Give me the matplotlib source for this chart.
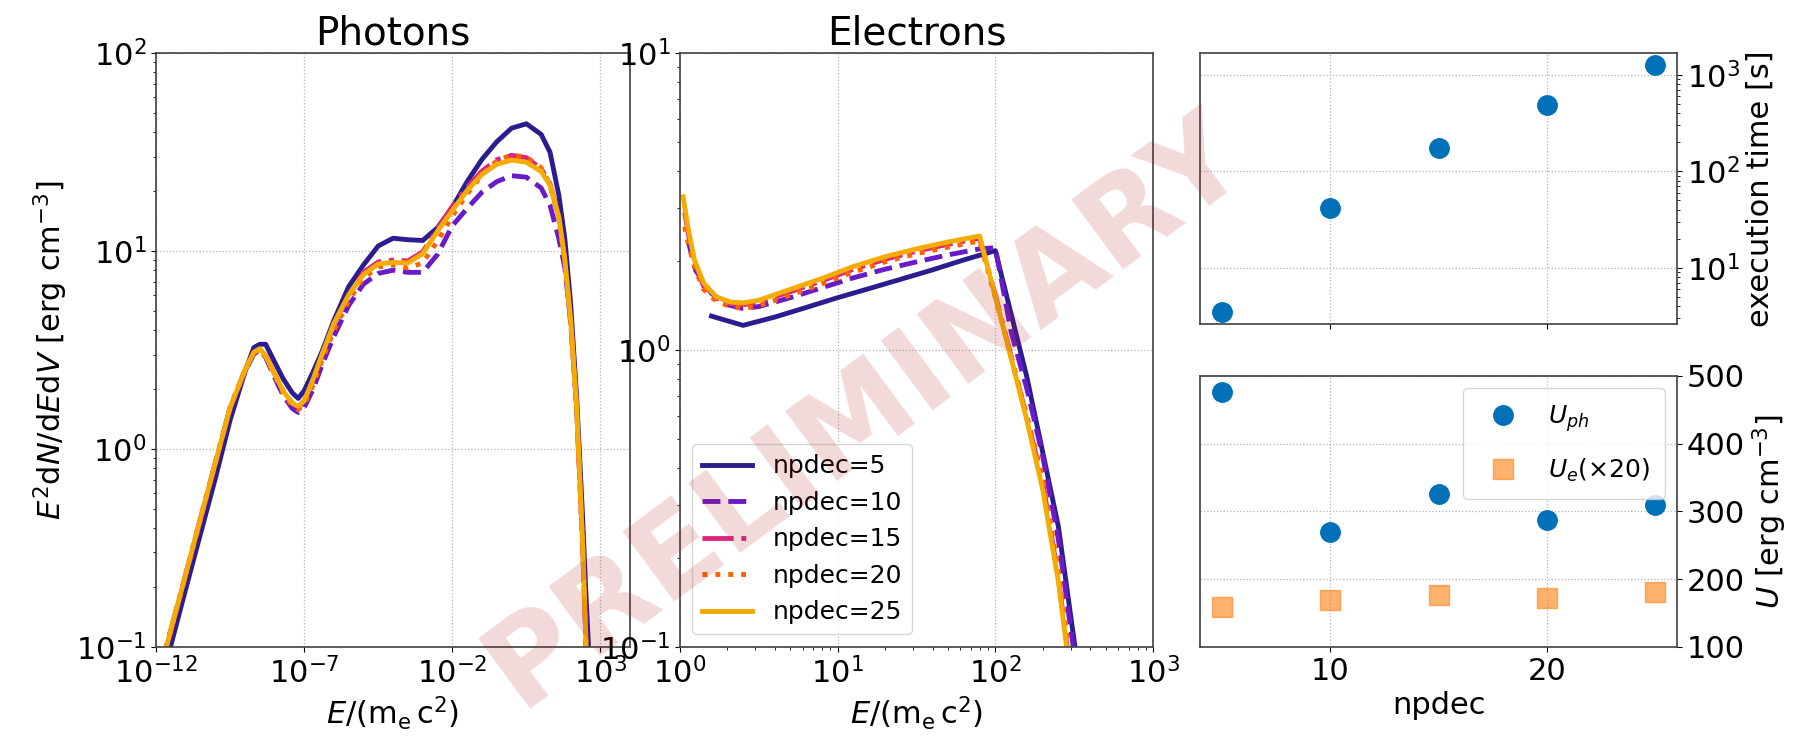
import numpy as np
import matplotlib.pyplot as plt
from matplotlib.ticker import NullLocator

# photon spectra: log10(E / m_e c^2) grid shared by all runs
ph_logE = [-12.0, -11.5, -11.0, -10.5, -10.0, -9.5, -9.0, -8.7, -8.5, -8.3,
           -8.0, -7.7, -7.4, -7.2, -7.0, -6.7, -6.4, -6.0, -5.5, -5.0,
           -4.5, -4.0, -3.5, -3.0, -2.5, -2.0, -1.5, -1.0, -0.5, 0.0,
           0.5, 1.0, 1.3, 1.6, 1.8, 2.0, 2.2, 2.4, 2.5, 2.6]
ph_np5 = [0.054, 0.102, 0.196, 0.373, 0.71, 1.40, 2.45, 3.25, 3.38, 3.38,
          2.75, 2.25, 1.92, 1.80, 1.97, 2.45, 3.1, 4.45, 6.6, 8.5,
          10.6, 11.6, 11.4, 11.3, 13.1, 16.6, 22.4, 29.0, 35.6, 41.7,
          43.9, 38.8, 31.5, 19.0, 11.5, 5.3, 1.8, 0.45, 0.2, 0.1]
ph_np10 = [0.062, 0.118, 0.226, 0.43, 0.83, 1.58, 2.45, 3.02, 3.15, 2.9,
           2.3, 1.85, 1.6, 1.53, 1.62, 2.0, 2.65, 3.7, 5.3, 6.8,
           7.7, 8.0, 7.8, 7.8, 9.6, 13.4, 16.4, 19.8, 22.4, 24.0,
           23.6, 20.8, 17.0, 11.5, 8.2, 4.3, 1.6, 0.33, 0.12, 0.04]
ph_np15 = [0.064, 0.122, 0.233, 0.446, 0.85, 1.62, 2.5, 3.08, 3.21, 2.95,
           2.4, 1.95, 1.70, 1.62, 1.74, 2.22, 2.95, 4.25, 6.0, 7.8,
           8.8, 9.0, 8.9, 9.9, 12.9, 16.8, 21.0, 25.3, 28.9, 30.4,
           29.6, 26.0, 21.8, 14.8, 9.0, 4.4, 1.6, 0.33, 0.12, 0.04]
ph_np20 = [0.064, 0.122, 0.233, 0.446, 0.85, 1.62, 2.5, 3.06, 3.18, 2.92,
           2.35, 1.9, 1.65, 1.58, 1.68, 2.1, 2.8, 3.95, 5.6, 7.3,
           8.3, 8.5, 8.2, 8.7, 11.2, 15.0, 19.4, 24.2, 28.5, 30.5,
           29.8, 26.3, 21.5, 14.5, 8.8, 4.3, 1.6, 0.33, 0.12, 0.04]
ph_np25 = [0.064, 0.122, 0.233, 0.446, 0.85, 1.62, 2.5, 3.08, 3.21, 2.95,
           2.4, 1.95, 1.70, 1.64, 1.75, 2.25, 3.0, 4.3, 6.0, 7.6,
           8.6, 8.75, 8.7, 9.7, 12.6, 16.0, 20.2, 24.4, 27.4, 28.8,
           28.1, 25.2, 21.5, 14.8, 9.0, 4.4, 1.6, 0.33, 0.12, 0.04]

# electron spectra, each run on its own energy grid
el_logE_np5 = [0.2, 0.4, 0.6, 0.8, 1.0, 1.2, 1.4, 1.6, 1.8, 2.0, 2.2, 2.4, 2.6]
el_np5 = [1.30, 1.21, 1.29, 1.39, 1.50, 1.61, 1.73, 1.86, 2.01, 2.16, 0.81, 0.254, 0.043]
el_logE_np10 = [0.05, 0.1, 0.2, 0.3, 0.4, 0.5, 0.7, 0.9, 1.1, 1.3, 1.5, 1.7, 1.9, 2.0,
                2.1, 2.2, 2.3, 2.4, 2.5]
el_np10 = [2.35, 1.85, 1.55, 1.42, 1.38, 1.40, 1.50, 1.62, 1.75, 1.87, 1.98, 2.09, 2.19, 2.21,
           1.15, 0.74, 0.44, 0.23, 0.095]
el_logE_np15 = [0.03, 0.06, 0.1, 0.15, 0.23, 0.32, 0.4, 0.5, 0.7, 0.9, 1.1, 1.3, 1.5, 1.7,
                1.9, 2.0, 2.1, 2.2, 2.3, 2.4, 2.5]
el_np15 = [2.9, 2.35, 1.92, 1.64, 1.49, 1.43, 1.42, 1.45, 1.57, 1.71, 1.87, 2.02, 2.15, 2.27,
           2.38, 1.53, 0.95, 0.59, 0.36, 0.17, 0.065]
el_logE_np20 = [0.03, 0.06, 0.1, 0.15, 0.23, 0.32, 0.4, 0.5, 0.7, 0.9, 1.1, 1.3, 1.5, 1.7,
                1.9, 2.0, 2.1, 2.2, 2.3, 2.4, 2.5]
el_np20 = [2.6, 2.2, 1.85, 1.6, 1.46, 1.40, 1.38, 1.41, 1.53, 1.67, 1.83, 1.98, 2.11, 2.22,
           2.33, 1.5, 0.95, 0.6, 0.37, 0.18, 0.07]
el_logE_np25 = [0.02, 0.05, 0.09, 0.15, 0.23, 0.32, 0.4, 0.5, 0.7, 0.9, 1.1, 1.3, 1.5, 1.7,
                1.9, 2.0, 2.1, 2.2, 2.3, 2.4, 2.5]
el_np25 = [3.28, 2.60, 2.02, 1.68, 1.51, 1.45, 1.44, 1.47, 1.60, 1.74, 1.91, 2.06, 2.19, 2.31,
           2.42, 1.51, 0.94, 0.58, 0.34, 0.166, 0.063]

# convergence scan
npdec = [5, 10, 15, 20, 25]
exec_time = [3.5, 42, 175, 480, 1250]
U_ph = [476, 269, 326, 287, 310]
U_e20 = [159, 169, 177, 172, 181]

labels = ['npdec=5', 'npdec=10', 'npdec=15', 'npdec=20', 'npdec=25']
colors = ['#2b1d8f', '#6a1bc9', '#dc267f', '#fe6100', '#f5ab00']
styles = ['-', '--', '-.', ':', '-']

plt.rcParams['font.size'] = 22
plt.rcParams['axes.linewidth'] = 1.2
plt.rcParams['axes.edgecolor'] = '0.25'

fig = plt.figure(figsize=(17.96, 7.41), dpi=100)
ax_ph = fig.add_axes([0.0869, 0.1269, 0.2639, 0.8016])
ax_el = fig.add_axes([0.3786, 0.1269, 0.2634, 0.8016])
ax_t = fig.add_axes([0.6682, 0.5628, 0.2656, 0.3657])
ax_u = fig.add_axes([0.6682, 0.1269, 0.2656, 0.3657], sharex=ax_t)

ph_E = 10.0 ** np.array(ph_logE)
for y, lab, c, ls in zip([ph_np5, ph_np10, ph_np15, ph_np20, ph_np25], labels, colors, styles):
    ax_ph.plot(ph_E, y, ls=ls, color=c, lw=3.5, label=lab)

el_runs = [(el_logE_np5, el_np5), (el_logE_np10, el_np10), (el_logE_np15, el_np15),
           (el_logE_np20, el_np20), (el_logE_np25, el_np25)]
for (le, y), lab, c, ls in zip(el_runs, labels, colors, styles):
    ax_el.plot(10.0 ** np.array(le), y, ls=ls, color=c, lw=3.5, label=lab)

ax_ph.set_xscale('log')
ax_ph.set_yscale('log')
ax_ph.set_xlim(1e-12, 1e4)
ax_ph.set_ylim(0.1, 100)
ax_ph.set_xticks([1e-12, 1e-7, 1e-2, 1e3])
ax_ph.xaxis.set_minor_locator(NullLocator())
ax_ph.set_title('Photons', fontsize=28)
ax_ph.set_xlabel(r'$E/(\mathrm{m_e\,c^2})$')
ax_ph.set_ylabel(r'$E^2\mathrm{d}N/\mathrm{d}E\mathrm{d}V$ [erg cm$^{-3}$]')

ax_el.set_xscale('log')
ax_el.set_yscale('log')
ax_el.set_xlim(1, 1e3)
ax_el.set_ylim(0.1, 10)
ax_el.set_title('Electrons', fontsize=28)
ax_el.set_xlabel(r'$E/(\mathrm{m_e\,c^2})$')
ax_el.legend(loc='lower left', fontsize=18)

ax_t.plot(npdec, exec_time, 'o', color='#0071b8', ms=14)
ax_t.set_yscale('log')
ax_t.yaxis.tick_right()
ax_t.yaxis.set_label_position('right')
ax_t.tick_params(labelbottom=False)
ax_t.set_ylabel('execution time [s]')

ax_u.plot(npdec, U_ph, 'o', color='#0071b8', ms=14, label=r'$U_{ph}$')
ax_u.plot(npdec, U_e20, 's', color='tab:orange', alpha=0.6, ms=14, label=r'$U_e(\times 20)$')
ax_u.set_ylim(100, 500)
ax_u.set_yticks([100, 200, 300, 400, 500])
ax_u.set_xticks([10, 20])
ax_u.yaxis.tick_right()
ax_u.yaxis.set_label_position('right')
ax_u.set_xlabel('npdec')
ax_u.set_ylabel(r'$U$ [erg cm$^{-3}$]')
ax_u.legend(loc='upper right', fontsize=18, labelspacing=0.9, borderpad=0.6)

for ax in (ax_ph, ax_el, ax_t, ax_u):
    ax.grid(True, which='major', ls=':', color='0.7', lw=0.9)

fig.text(0.482, 0.445, 'PRELIMINARY', rotation=36.5, fontsize=86, fontweight='bold',
         color='firebrick', alpha=0.17, ha='center', va='center', rotation_mode='anchor')

fig.savefig('out.png', dpi=100)
